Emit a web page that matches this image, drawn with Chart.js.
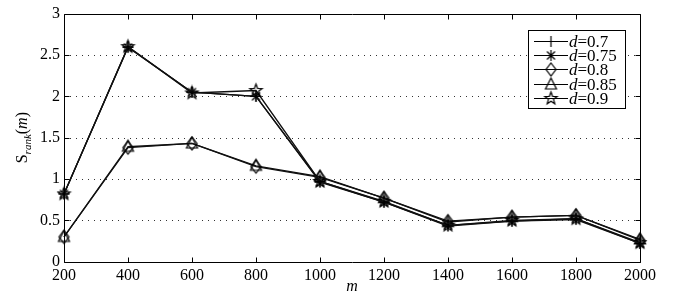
<!DOCTYPE html>
<html><head><meta charset="utf-8">
<script src="https://cdn.jsdelivr.net/npm/chart.js@4/dist/chart.umd.min.js"></script>
<style>html,body{margin:0;padding:0;background:#fff}#wrap{width:684px;height:295px;position:relative}</style>
</head><body><div id="wrap"><canvas id="c"></canvas></div>
<script>
const categories = ['200','400','600','800','1000','1200','1400','1600','1800','2000'];
const yTickValues = [0, 0.5, 1, 1.5, 2, 2.5, 3];
const seriesLabels = ['0.7', '0.75', '0.8', '0.85', '0.9'];
const d070 = [0.82, 2.60, 2.05, 2.00, 0.97, 0.72, 0.43, 0.49, 0.51, 0.22];
const d075 = [0.82, 2.59, 2.05, 2.00, 0.96, 0.72, 0.44, 0.49, 0.52, 0.22];
const d080 = [0.30, 1.38, 1.43, 1.15, 1.02, 0.77, 0.49, 0.54, 0.56, 0.26];
const d085 = [0.30, 1.39, 1.43, 1.16, 1.03, 0.77, 0.48, 0.54, 0.56, 0.27];
const d090 = [0.82, 2.60, 2.04, 2.07, 0.97, 0.73, 0.44, 0.50, 0.52, 0.23];
const markerKinds = ['plus', 'asterisk', 'diamond', 'triangle', 'pentagram'];

const INK = '#000';
const SERIF = '"Liberation Serif", "Times New Roman", serif';

function makeMarker(kind) {
  const c = document.createElement('canvas');
  c.width = 17; c.height = 17;
  const g = c.getContext('2d');
  g.translate(8.5, 8.5);
  g.strokeStyle = INK; g.lineWidth = 1.2;
  g.beginPath();
  if (kind === 'plus' || kind === 'asterisk') {
    g.moveTo(-5.5, 0); g.lineTo(5.5, 0); g.moveTo(0, -5.5); g.lineTo(0, 5.5);
    if (kind === 'asterisk') {
      g.moveTo(-4, -4); g.lineTo(4, 4); g.moveTo(-4, 4); g.lineTo(4, -4);
    }
  } else if (kind === 'diamond') {
    g.moveTo(0, -6.5); g.lineTo(5, 0); g.lineTo(0, 6.5); g.lineTo(-5, 0); g.closePath();
  } else if (kind === 'triangle') {
    g.moveTo(0, -6.5); g.lineTo(5.5, 4.5); g.lineTo(-5.5, 4.5); g.closePath();
  } else if (kind === 'pentagram') {
    for (let i = 0; i < 10; i++) {
      const r = i % 2 === 0 ? 6.5 : 2.7;
      const a = -Math.PI / 2 + i * Math.PI / 5;
      const px = r * Math.cos(a), py = r * Math.sin(a);
      if (i === 0) g.moveTo(px, py); else g.lineTo(px, py);
    }
    g.closePath();
  }
  g.stroke();
  return c;
}
const markers = markerKinds.map(makeMarker);
const seriesData = [d070, d075, d080, d085, d090];

const datasets = seriesData.map((d, i) => ({
  label: 'd=' + seriesLabels[i],
  data: d,
  borderColor: '#111',
  borderWidth: 1.3,
  backgroundColor: 'transparent',
  pointStyle: markers[i],
  pointRadius: 6,
  tension: 0,
  fill: false
}));

const framePlugin = {
  id: 'frame',
  beforeDatasetsDraw(chart) {
    const { ctx, chartArea: a, scales } = chart;
    ctx.save();
    ctx.strokeStyle = '#333'; ctx.lineWidth = 1;
    ctx.setLineDash([1, 5]);
    yTickValues.forEach(v => {
      if (v <= 0 || v >= 3) return;
      const y = Math.round(scales.y.getPixelForValue(v)) + 0.5;
      ctx.beginPath(); ctx.moveTo(a.left, y); ctx.lineTo(a.right, y); ctx.stroke();
    });
    ctx.restore();
  },
  afterDraw(chart) {
    const { ctx, chartArea: a, scales } = chart;
    ctx.save();
    ctx.strokeStyle = INK; ctx.lineWidth = 1;
    const L = Math.round(a.left) + 0.5, R = Math.round(a.right) + 0.5;
    const T = Math.round(a.top) + 0.5, B = Math.round(a.bottom) + 0.5;
    ctx.beginPath(); ctx.rect(L, T, R - L, B - T); ctx.stroke();
    const tl = 5;
    ctx.beginPath();
    categories.forEach((c, i) => {
      const x = Math.round(scales.x.getPixelForValue(i)) + 0.5;
      ctx.moveTo(x, B); ctx.lineTo(x, B - tl);
      ctx.moveTo(x, T); ctx.lineTo(x, T + tl);
    });
    yTickValues.forEach(v => {
      const y = Math.round(scales.y.getPixelForValue(v)) + 0.5;
      ctx.moveTo(L, y); ctx.lineTo(L + tl, y);
      ctx.moveTo(R, y); ctx.lineTo(R - tl, y);
    });
    ctx.stroke();

    // legend
    const lx = 528.5, ly = 30.5, lw = 97, lh = 78;
    ctx.fillStyle = '#fff';
    ctx.fillRect(lx, ly, lw, lh);
    ctx.strokeRect(lx, ly, lw, lh);
    const rows = [40.7, 54.8, 69.3, 83.5, 98.3];
    datasets.forEach((ds, i) => {
      const y = Math.round(rows[i]) + 0.5;
      ctx.lineWidth = 1.2;
      ctx.beginPath(); ctx.moveTo(534, y); ctx.lineTo(568, y); ctx.stroke();
      ctx.drawImage(markers[i], 551 - 8.5, y - 8.5);
      ctx.fillStyle = INK;
      ctx.textBaseline = 'alphabetic';
      ctx.font = 'italic 17px ' + SERIF;
      ctx.fillText('d', 569, y + 5.5);
      const w = ctx.measureText('d').width;
      ctx.font = '17px ' + SERIF;
      ctx.fillText('=' + seriesLabels[i], 569 + w, y + 5.5);
    });

    // x title
    ctx.fillStyle = INK;
    ctx.font = 'italic 16px ' + SERIF;
    ctx.textAlign = 'center';
    ctx.fillText('m', (a.left + a.right) / 2, 291);

    // y title
    ctx.textAlign = 'left';
    ctx.translate(27, (a.top + a.bottom) / 2);
    ctx.rotate(-Math.PI / 2);
    const parts = [
      { t: 'S', f: '16px ' + SERIF, dy: 0 },
      { t: 'rank', f: 'italic 11px ' + SERIF, dy: 4 },
      { t: '(', f: '16px ' + SERIF, dy: 0 },
      { t: 'm', f: 'italic 16px ' + SERIF, dy: 0 },
      { t: ')', f: '16px ' + SERIF, dy: 0 }
    ];
    let total = 0;
    parts.forEach(p => { ctx.font = p.f; p.w = ctx.measureText(p.t).width; total += p.w; });
    let x = -total / 2;
    parts.forEach(p => { ctx.font = p.f; ctx.fillText(p.t, x, p.dy); x += p.w; });
    ctx.restore();
  }
};

new Chart(document.getElementById('c'), {
  type: 'line',
  data: { labels: categories, datasets },
  options: {
    responsive: true,
    maintainAspectRatio: false,
    animation: false,
    layout: { padding: { left: 0, right: 44, top: 12.5, bottom: 0 } },
    plugins: { legend: { display: false }, tooltip: { enabled: false } },
    scales: {
      x: {
        type: 'category',
        offset: false,
        grid: { display: false, drawTicks: false },
        border: { display: false },
        ticks: { color: INK, font: { family: SERIF, size: 16 }, padding: 4, maxRotation: 0, autoSkip: false },
        afterFit(s) { s.height = 33.3; }
      },
      y: {
        min: 0, max: 3,
        grid: { display: false, drawTicks: false },
        border: { display: false },
        ticks: { stepSize: 0.5, color: INK, font: { family: SERIF, size: 16 }, padding: 4,
                 callback: v => String(v) },
        afterFit(s) { s.width = 64; }
      }
    }
  },
  plugins: [framePlugin]
});
</script>
</body></html>
